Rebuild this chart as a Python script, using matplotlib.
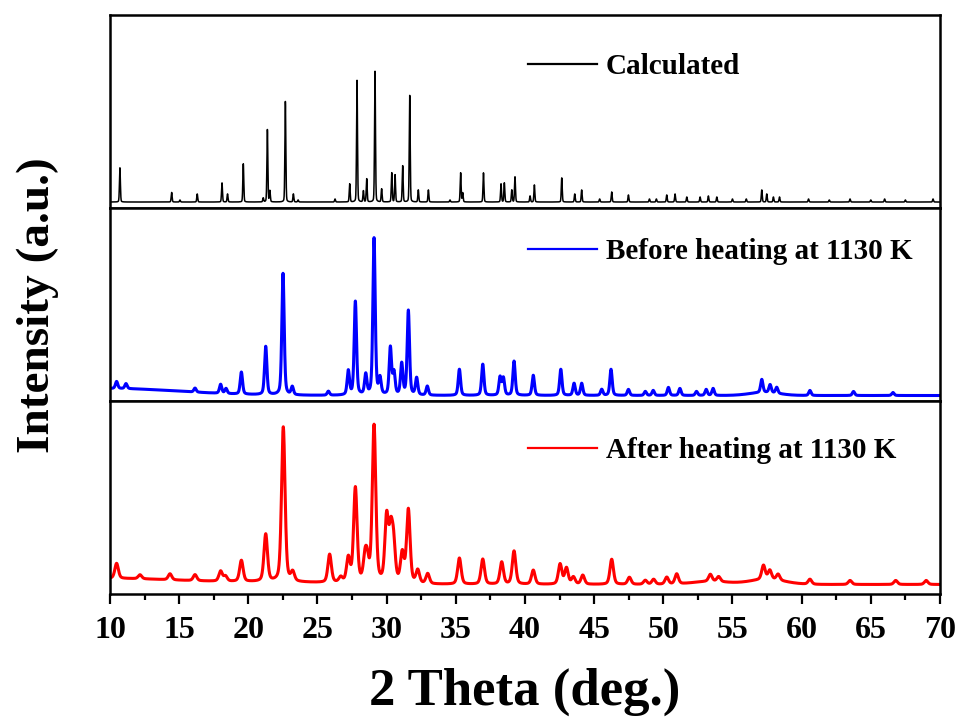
'''
XRD patterns: calculated vs. measured before / after heating at 1130 K.
Three stacked panels sharing the 2 Theta axis.
'''
import numpy as np
import matplotlib
matplotlib.use("Agg")
import matplotlib.pyplot as plt
from matplotlib.ticker import MultipleLocator

OUT_PATH = "out.png"

# Peak lists (2 Theta in deg, height in arbitrary units)
calc_pos = [10.72, 14.46, 15.06, 16.31, 18.1, 18.5, 19.64, 21.08, 21.38, 21.56,
            22.68, 23.26, 23.6, 26.27, 27.33, 27.86, 28.32, 28.56, 29.16, 29.64,
            30.37, 30.61, 31.16, 31.67, 32.29, 33.02, 34.58, 35.35, 35.5, 37.0,
            38.27, 38.51, 39.05, 39.28, 40.37, 40.68, 42.66, 43.6, 44.1, 45.4,
            46.27, 47.48, 49.0, 49.5, 50.25, 50.85, 51.7, 52.66, 53.26, 53.87,
            55.0, 56.0, 57.12, 57.48, 57.96, 58.4, 60.5, 62.0, 63.5, 65.0,
            66.0, 67.5, 69.5]
calc_int = [34, 9.5, 2, 8, 19, 8, 38, 4, 72, 11,
            100, 8, 2, 3, 18, 121, 11, 23, 130, 13,
            29, 27, 36, 106, 12, 12, 2, 29, 9, 29,
            18, 19, 12, 25, 6, 17, 24, 8, 12, 3,
            10, 7, 3, 3, 7, 8, 5, 5, 6, 5,
            3, 3, 12, 8, 5, 5, 3, 2, 3, 2,
            3, 2, 3]

before_pos = [10.48, 11.16, 16.15, 18.0, 18.39, 19.5, 21.26, 22.51, 23.18, 25.79,
              27.23, 27.74, 28.49, 29.09, 29.52, 30.27, 30.53, 31.09, 31.57, 32.17,
              32.94, 35.26, 36.95, 38.2, 38.44, 39.21, 40.6, 42.59, 43.55, 44.1,
              45.55, 46.22, 47.48, 48.7, 49.27, 50.37, 51.2, 52.4, 53.1, 53.6,
              57.12, 57.72, 58.2, 60.6, 63.75, 66.6]
before_int = [7, 5, 4, 9, 5, 22, 48, 121, 8, 4,
              24, 93, 20, 156, 16, 47, 22, 31, 84, 17,
              9, 26, 31, 18, 17, 34, 20, 26, 12, 12,
              6, 26, 6, 4, 5, 8, 7, 4, 6, 7,
              13, 8, 6, 5, 4, 3]

after_pos = [10.48, 12.17, 14.34, 16.15, 18.0, 18.35, 19.5, 21.26, 22.53, 23.21,
             25.88, 26.68, 27.23, 27.74, 28.44, 28.6, 29.09, 30.0, 30.3, 30.5,
             31.13, 31.57, 32.25, 32.97, 35.26, 36.95, 38.32, 39.21, 40.6, 42.54,
             43.0, 43.5, 44.18, 46.27, 47.55, 48.7, 49.3, 50.25, 50.97, 53.4,
             54.0, 57.24, 57.7, 58.3, 60.6, 63.5, 66.8, 69.0]
after_int = [15, 4, 6, 6, 10, 5, 21, 47, 154, 9,
             28, 5, 24, 94, 22, 18, 156, 64, 46, 36,
             29, 73, 13, 10, 26, 25, 22, 33, 14, 20,
             16, 7, 9, 25, 7, 4, 5, 7, 10, 7,
             5, 14, 9, 6, 5, 4, 4, 4]

# Flat background level and broad amorphous humps per pattern
calc_bg = 6
before_bg = 5.5
before_hump_pos = [10.0, 57.3]
before_hump_int = [7, 3]
before_hump_fwhm = [12.0, 2.5]
after_bg = 9.5
after_hump_pos = [10.0, 22.0, 53.4, 57.5]
after_hump_int = [6, 2, 3, 5]
after_hump_fwhm = [12.0, 10.0, 3.0, 3.0]

LABELS = ["Calculated", "Before heating at 1130 K", "After heating at 1130 K"]
COLORS = ["black", "#0000FF", "#FF0000"]


def pseudo_voigt(x, pos, height, fwhm, eta=0.4):
    # peak-normalised pseudo-Voigt summed over all reflections
    y = np.zeros_like(x)
    for p, h, w in zip(pos, height, np.broadcast_to(fwhm, len(pos))):
        d = (x - p) / (w / 2)
        lor = 1.0 / (1.0 + d ** 2)
        gau = np.exp(-np.log(2) * d ** 2)
        y += h * (eta * lor + (1 - eta) * gau)
    return y


tt = np.arange(10, 70.001, 0.01)

calc = calc_bg + pseudo_voigt(tt, calc_pos, calc_int, 0.08, eta=0.2)
before = (before_bg + pseudo_voigt(tt, before_pos, before_int, 0.2)
          + pseudo_voigt(tt, before_hump_pos, before_hump_int, before_hump_fwhm, eta=0.0))
after = (after_bg + pseudo_voigt(tt, after_pos, after_int, 0.3)
         + pseudo_voigt(tt, after_hump_pos, after_hump_int, after_hump_fwhm, eta=0.0))

plt.rcParams['font.family'] = ['Liberation Serif', 'DejaVu Serif']
plt.rcParams['font.weight'] = 'bold'

fig, axes = plt.subplots(3, 1, figsize=(9.62, 7.17), dpi=100, sharex=True)
fig.subplots_adjust(left=0.1143, right=0.9771, top=0.979, bottom=0.1715, hspace=0)

patterns = [calc, before, after]
widths = [1.1, 2.2, 2.2]
legend_y = [0.734, 0.774, 0.745]

for ax, y, lab, col, lw, ly in zip(axes, patterns, LABELS, COLORS, widths, legend_y):
    ax.plot(tt, y, color=col, lw=lw, label=lab)
    ax.set_ylim(0, 192)
    ax.set_yticks([])
    for sp in ax.spines.values():
        sp.set_linewidth(1.8)
    ax.tick_params(axis='x', which='both', bottom=False, top=False, labelbottom=False)
    leg = ax.legend(loc='center left', bbox_to_anchor=(0.5036, ly), frameon=False,
                    borderpad=0, borderaxespad=0, handlelength=2.36, handletextpad=0.3,
                    prop={'size': 21, 'weight': 'bold'})
    for h in leg.get_lines():
        h.set_linewidth(1.6)

ax3 = axes[-1]
ax3.set_xlim(10, 70)
ax3.xaxis.set_major_locator(MultipleLocator(5))
ax3.xaxis.set_minor_locator(MultipleLocator(2.5))
ax3.tick_params(axis='x', which='major', bottom=True, labelbottom=True, direction='out',
                length=7, width=1.6, pad=9, labelsize=23)
ax3.tick_params(axis='x', which='minor', bottom=True, direction='out', length=4, width=1.6)
ax3.set_xlabel('2 Theta (deg.)', fontsize=38, fontweight='bold', labelpad=16)

fig.text(38 / 962, 1 - 305 / 717, 'Intensity (a.u.)', rotation=90, ha='center', va='center',
         fontsize=34, fontweight='bold')

plt.savefig(OUT_PATH)
